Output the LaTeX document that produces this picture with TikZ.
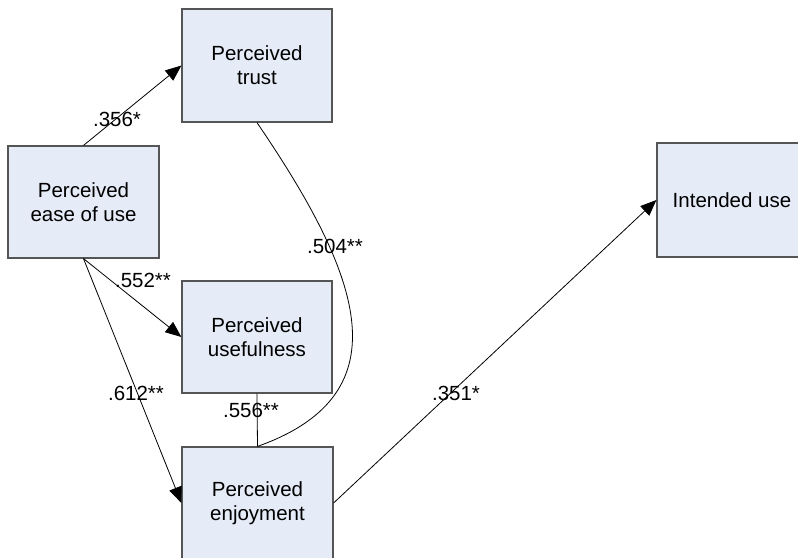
\documentclass[tikz,border=0pt]{standalone}
\usepackage{fontspec}
\setmainfont{Liberation Sans}
\usetikzlibrary{arrows.meta}
\definecolor{boxfill}{HTML}{E6ECF7}
\definecolor{boxline}{HTML}{555555}
\tikzset{
  varbox/.style={draw=boxline, line width=1.2pt, fill=boxfill, inner sep=0pt,
    minimum width=150pt, minimum height=113pt, align=center,
    font=\fontsize{20.5}{24}\selectfont},
  conn/.style={draw=black, line width=0.8pt},
  arr/.style={conn, -{Triangle[length=16pt,width=13pt]}},
  coef/.style={inner sep=0pt, font=\fontsize{20.5}{24}\selectfont}
}
\begin{document}
\begin{tikzpicture}[x=1pt,y=-1pt]
\useasboundingbox (0,0) rectangle (798,557);
\begin{scope}
\clip (0,0) rectangle (798,557);
\node[varbox] (trust) at (257,65.5) {Perceived\\trust};
\node[varbox, minimum width=151pt, minimum height=112pt] (ease) at (83.5,202) {Perceived\\ease of use};
\node[varbox, minimum height=112pt] (useful) at (257,337) {Perceived\\usefulness};
\node[varbox, minimum width=151pt, minimum height=112pt] (enjoy) at (257.5,503) {Perceived\\enjoyment};
\node[varbox, minimum height=114pt] (intend) at (732,200) {Intended use};

\draw[arr] (ease.north) -- (trust.west);
\draw[arr] (ease.south) -- (useful.west);
\draw[arr] (ease.south) -- (enjoy.west);
\draw[conn] (useful.south) -- (enjoy.north);
\draw[conn] (trust.south) .. controls (358,271) and (408,393) .. (enjoy.north);
\draw[arr] (enjoy.east) -- (intend.west);

\node[coef] (c1) at (117,119) {.356*};
\node[coef] (c2) at (143,280) {.552**};
\node[coef] (c3) at (136,393) {.612**};
\node[coef] (c4) at (251,410) {.556**};
\node[coef] (c5) at (335,246) {.504**};
\node[coef] (c6) at (456,393) {.351*};
\end{scope}
\end{tikzpicture}
\end{document}
